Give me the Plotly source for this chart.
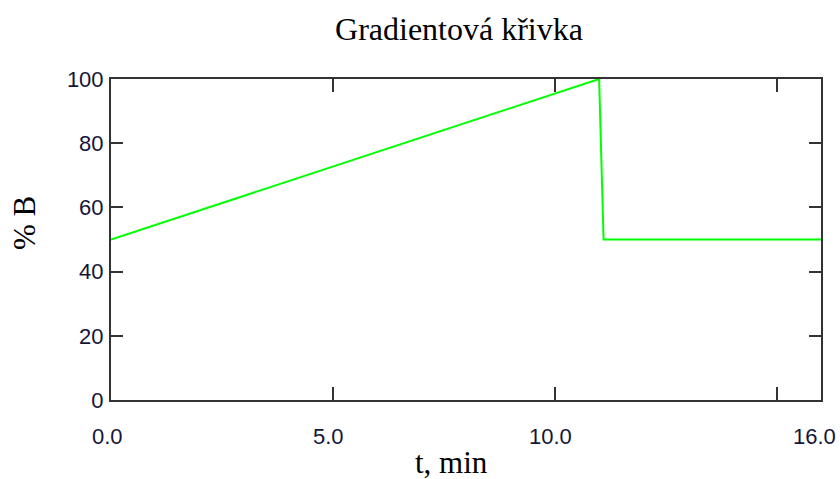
import plotly.graph_objects as go

# Gradient program: time (min) vs. percentage of solvent B
time_min = [0.0, 11.0, 11.1, 16.0]
percent_b = [50, 100, 50, 50]

x_tick_vals = [0, 5, 10, 15, 16]
x_label_vals = [0, 5, 10, 16]
x_label_text = ["0.0", "5.0", "10.0", "16.0"]
y_tick_vals = [0, 20, 40, 60, 80, 100]
y_tick_text = ["0", "20", "40", "60", "80", "100"]

W, H = 840, 479
L, R, T, B = 111, 19, 79, 79
pw, ph = W - L - R, H - T - B

axis_color = "#333333"
label_font = dict(family="Liberation Sans Narrow, Arial Narrow, Liberation Sans, Arial, sans-serif",
                  size=22, color="#15153a")
serif = "Liberation Serif, Times New Roman, serif"

fig = go.Figure()
fig.add_trace(go.Scatter(
    x=time_min, y=percent_b, mode="lines",
    line=dict(color="#00ff00", width=2),
    showlegend=False, hoverinfo="skip",
))

# x tick labels drawn as annotations so the last one stays inside the page
x_labels = [
    dict(text=t, x=v, xref="x", y=0, yref="paper", yshift=-36,
         xshift=-4 if v < 16 else -7, showarrow=False,
         xanchor="center", yanchor="middle", font=label_font)
    for v, t in zip(x_label_vals, x_label_text)
]

fig.update_layout(
    width=W, height=H,
    margin=dict(l=L, r=R, t=T, b=B, pad=0, autoexpand=False),
    paper_bgcolor="white", plot_bgcolor="white",
    title=dict(text="Gradientová křivka", x=459 / W, xref="container", xanchor="center",
               y=1 - 29 / H, yref="container", yanchor="middle",
               font=dict(family=serif, size=32, color="black")),
    xaxis=dict(range=[0, 16], tickvals=x_tick_vals, showticklabels=False,
               ticks="inside", ticklen=13, tickwidth=2, tickcolor=axis_color,
               showline=True, linecolor=axis_color, linewidth=2, mirror="ticks",
               showgrid=False, zeroline=False, automargin=False, fixedrange=True),
    yaxis=dict(range=[0, 100], tickvals=y_tick_vals, ticktext=y_tick_text,
               ticks="inside", ticklen=12, tickwidth=2, tickcolor=axis_color,
               showline=True, linecolor=axis_color, linewidth=2, mirror="ticks",
               showgrid=False, zeroline=False, tickfont=label_font, automargin=False,
               ticklabelstandoff=1, ticklabeloverflow="allow", fixedrange=True),
    annotations=x_labels + [
        # axis titles placed in plot-area (paper) coordinates from pixel positions
        dict(text="t, min", x=(451 - L) / pw, y=(H - B - 463) / ph,
             xref="paper", yref="paper", showarrow=False,
             xanchor="center", yanchor="middle",
             font=dict(family=serif, size=31, color="black")),
        dict(text="% B", x=(24 - L) / pw, y=(H - B - 223) / ph,
             xref="paper", yref="paper", showarrow=False, textangle=-90,
             xanchor="center", yanchor="middle",
             font=dict(family=serif, size=31, color="black")),
    ],
)

fig.write_html("out.html")
